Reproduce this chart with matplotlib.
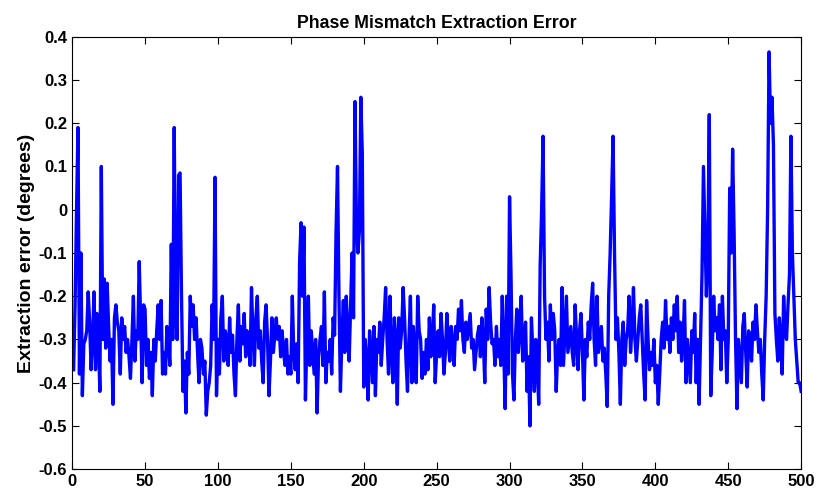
import matplotlib
matplotlib.use("Agg")
import matplotlib.pyplot as plt
from matplotlib.ticker import FuncFormatter

# extraction error per sample (samples 1..500)
err = [
    -0.37, -0.22, 0.00, 0.19, -0.38, -0.10, -0.43, -0.31, -0.30, -0.28,
    -0.19, -0.26, -0.37, -0.30, -0.19, -0.37, -0.24, -0.30, -0.42, 0.10,
    -0.30, -0.16, -0.32, -0.17, -0.27, -0.35, -0.30, -0.45, -0.25, -0.22,
    -0.26, -0.28, -0.38, -0.25, -0.30, -0.27, -0.33, -0.30, -0.34, -0.39,
    -0.30, -0.20, -0.35, -0.28, -0.30, -0.12, -0.26, -0.40, -0.22, -0.23,
    -0.36, -0.30, -0.39, -0.33, -0.43, -0.30, -0.35, -0.28, -0.22, -0.30,
    -0.21, -0.38, -0.33, -0.38, -0.27, -0.30, -0.36, -0.08, -0.30, 0.19,
    -0.24, -0.30, 0.08, 0.085, -0.20, -0.42, -0.35, -0.47, -0.33, -0.38,
    -0.20, -0.27, -0.22, -0.30, -0.25, -0.33, -0.40, -0.30, -0.32, -0.38,
    -0.35, -0.475, -0.42, -0.40, -0.36, -0.22, -0.30, 0.075, -0.43, -0.30,
    -0.38, -0.25, -0.20, -0.35, -0.28, -0.30, -0.36, -0.25, -0.33, -0.29,
    -0.38, -0.43, -0.30, -0.22, -0.35, -0.27, -0.31, -0.24, -0.34, -0.28,
    -0.30, -0.36, -0.18, -0.29, -0.36, -0.25, -0.20, -0.32, -0.28, -0.35,
    -0.40, -0.26, -0.22, -0.30, -0.43, -0.35, -0.25, -0.33, -0.29, -0.25,
    -0.30, -0.27, -0.34, -0.28, -0.33, -0.36, -0.30, -0.38, -0.34, -0.38,
    -0.20, -0.33, -0.37, -0.31, -0.40, -0.12, -0.03, -0.20, -0.04, -0.44,
    -0.30, -0.20, -0.36, -0.28, -0.33, -0.38, -0.30, -0.47, -0.34, -0.30,
    -0.27, -0.36, -0.19, -0.40, -0.33, -0.35, -0.30, -0.38, -0.25, -0.29,
    -0.05, 0.10, -0.20, -0.42, -0.30, -0.21, -0.33, -0.20, -0.28, -0.35,
    -0.22, -0.10, -0.25, 0.25, -0.03, -0.10, -0.05, 0.26, 0.13, -0.41,
    -0.30, -0.35, -0.44, -0.28, -0.33, -0.40, -0.27, -0.43, -0.30, -0.33,
    -0.26, -0.36, -0.30, -0.25, -0.18, -0.30, -0.38, -0.20, -0.33, -0.40,
    -0.25, -0.30, -0.45, -0.25, -0.32, -0.28, -0.18, -0.25, -0.35, -0.42,
    -0.30, -0.20, -0.40, -0.27, -0.33, -0.40, -0.20, -0.28, -0.30, -0.39,
    -0.33, -0.38, -0.30, -0.37, -0.25, -0.34, -0.30, -0.22, -0.40, -0.33,
    -0.28, -0.34, -0.24, -0.30, -0.38, -0.33, -0.24, -0.30, -0.35, -0.27,
    -0.31, -0.36, -0.27, -0.30, -0.23, -0.28, -0.21, -0.30, -0.33, -0.26,
    -0.30, -0.27, -0.24, -0.32, -0.30, -0.37, -0.33, -0.29, -0.27, -0.34,
    -0.25, -0.30, -0.40, -0.23, -0.30, -0.18, -0.26, -0.31, -0.30, -0.36,
    -0.27, -0.34, -0.30, -0.36, -0.20, -0.32, -0.46, -0.20, -0.38, 0.03,
    -0.15, -0.38, -0.44, -0.30, -0.23, -0.33, -0.28, -0.20, -0.35, -0.30,
    -0.26, -0.42, -0.34, -0.50, -0.25, -0.33, -0.42, -0.30, -0.36, -0.45,
    -0.13, 0.00, 0.17, -0.20, -0.30, -0.26, -0.35, -0.22, -0.30, -0.24,
    -0.28, -0.42, -0.33, -0.30, -0.36, -0.18, -0.36, -0.28, -0.20, -0.33,
    -0.30, -0.27, -0.33, -0.36, -0.22, -0.30, -0.37, -0.28, -0.24, -0.33,
    -0.44, -0.30, -0.34, -0.26, -0.30, -0.22, -0.17, -0.30, -0.36, -0.20,
    -0.33, -0.30, -0.27, -0.35, -0.32, -0.38, -0.455, -0.20, -0.10, 0.03,
    0.17, -0.10, -0.30, -0.25, -0.33, -0.45, -0.30, -0.26, -0.36, -0.30,
    -0.28, -0.20, -0.33, -0.27, -0.18, -0.30, -0.35, -0.30, -0.25, -0.22,
    -0.30, -0.38, -0.44, -0.21, -0.30, -0.37, -0.33, -0.36, -0.30, -0.40,
    -0.36, -0.45, -0.38, -0.30, -0.26, -0.32, -0.21, -0.30, -0.27, -0.33,
    -0.25, -0.30, -0.22, -0.28, -0.20, -0.33, -0.26, -0.35, -0.30, -0.21,
    -0.40, -0.30, -0.35, -0.40, -0.28, -0.33, -0.24, -0.40, -0.30, -0.45,
    -0.30, -0.15, 0.10, -0.05, -0.20, -0.10, 0.22, -0.43, -0.33, -0.20,
    -0.28, -0.25, -0.30, -0.22, -0.37, -0.20, -0.30, -0.28, -0.40, -0.30,
    0.05, -0.10, 0.14, -0.05, -0.30, -0.46, -0.30, -0.35, -0.40, -0.27,
    -0.24, -0.33, -0.41, -0.28, -0.30, -0.35, -0.26, -0.30, -0.22, -0.28,
    -0.33, -0.30, -0.38, -0.44, -0.30, -0.20, 0.00, 0.365, 0.20, 0.26,
    0.15, -0.24, -0.30, -0.35, -0.25, -0.30, -0.38, -0.20, -0.28, -0.30,
    -0.22, -0.15, 0.17, -0.10, -0.20, -0.30, -0.35, -0.40, -0.40, -0.42,
]
samples = list(range(1, len(err) + 1))

x_ticks = list(range(0, 501, 50))
y_ticks = [-0.6, -0.5, -0.4, -0.3, -0.2, -0.1, 0.0, 0.1, 0.2, 0.3, 0.4]

plt.rcParams['font.family'] = ['Liberation Sans', 'DejaVu Sans']
plt.rcParams['font.weight'] = 'bold'
plt.rcParams['axes.labelweight'] = 'bold'
plt.rcParams['axes.titleweight'] = 'bold'
plt.rcParams['axes.unicode_minus'] = False

fig = plt.figure(figsize=(8.2, 4.97), dpi=100)
ax = fig.add_axes([0.088, 0.056, 0.889, 0.870])

ax.plot(samples, err, color='#0000ff', linewidth=2.4)

ax.set_xlim(0, 500)
ax.set_ylim(-0.6, 0.4)
ax.set_xticks(x_ticks)
ax.set_yticks(y_ticks)
ax.yaxis.set_major_formatter(FuncFormatter(lambda v, p: '%g' % round(v, 2)))
ax.tick_params(direction='in', top=True, right=True, length=5, width=0.8,
               labelsize=12)
for s in ax.spines.values():
    s.set_linewidth(0.8)

ax.set_title('Phase Mismatch Extraction Error', fontsize=12.8, fontweight=700, pad=6)
ax.set_ylabel('Extraction error (degrees)', fontsize=14, fontweight=700, labelpad=3)

fig.savefig('out.png', dpi=100)
